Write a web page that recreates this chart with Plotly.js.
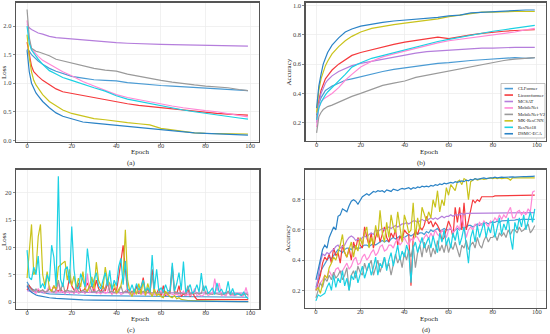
<!DOCTYPE html>
<html>
<head>
<meta charset="utf-8">
<script src="https://cdn.plot.ly/plotly-3.0.1.min.js"></script>
<style>html,body{margin:0;padding:0;background:#fff;}#chart{width:550px;height:334px;}</style>
</head>
<body>
<div id="chart"></div>
<script>
// ---------- Data ----------
const modelNames = ["CLFormer", "Liconvformer", "MCSAT", "MobileNet", "MobileNet-V2", "MK-ResCNN", "ResNet18", "DSMC-ECA"];
const modelColors = ["#4a9bd4", "#f5393c", "#b57edc", "#ff88d6", "#9a9a9a", "#c9c31c", "#1bd1e3", "#2b83c6"];

const epochs = Array.from({length: 100}, (_, i) => i);
const sparseEpochs = [0,1,2,3,4,5,7,10,13,16,20,25,30,35,40,45,50,55,60,65,70,75,80,85,90,95,99];

// (a) training loss (smooth), at sparseEpochs
const lossA_CLFormer     = [1.6,1.56,1.5,1.46,1.42,1.39,1.33,1.26,1.21,1.17,1.12,1.09,1.06,1.05,1.04,1.01,0.99,0.98,0.96,0.95,0.94,0.92,0.91,0.9,0.89,0.88,0.87];
const lossA_Liconvformer = [1.72,1.5,1.3,1.2,1.15,1.12,1.05,0.98,0.9,0.85,0.82,0.78,0.75,0.71,0.67,0.64,0.61,0.59,0.57,0.54,0.52,0.5,0.48,0.47,0.46,0.45,0.44];
const lossA_MCSAT        = [2.03,1.97,1.94,1.92,1.9,1.88,1.86,1.82,1.8,1.79,1.77,1.75,1.74,1.72,1.71,1.70,1.69,1.685,1.68,1.675,1.67,1.665,1.66,1.66,1.655,1.65,1.65];
const lossA_MobileNet    = [2.1,1.75,1.6,1.55,1.5,1.47,1.4,1.33,1.26,1.2,1.13,1.03,0.95,0.88,0.8,0.75,0.71,0.67,0.63,0.6,0.57,0.54,0.52,0.5,0.47,0.44,0.41];
const lossA_MobileNetV2  = [2.29,1.8,1.61,1.58,1.56,1.55,1.52,1.48,1.42,1.39,1.36,1.30,1.26,1.23,1.21,1.16,1.12,1.08,1.05,1.02,0.99,0.97,0.95,0.94,0.92,0.89,0.87];
const lossA_MKResCNN     = [1.85,1.45,1.2,1.05,0.97,0.92,0.8,0.68,0.6,0.53,0.47,0.42,0.38,0.36,0.33,0.31,0.29,0.27,0.21,0.18,0.15,0.13,0.12,0.12,0.11,0.11,0.11];
const lossA_ResNet18     = [2.0,1.7,1.58,1.52,1.47,1.42,1.33,1.22,1.16,1.1,1.05,0.98,0.92,0.86,0.78,0.72,0.68,0.64,0.6,0.56,0.53,0.5,0.47,0.45,0.42,0.39,0.37];
const lossA_DSMCECA      = [1.58,1.2,1.0,0.9,0.83,0.78,0.68,0.57,0.48,0.42,0.37,0.32,0.3,0.28,0.26,0.245,0.23,0.21,0.19,0.17,0.14,0.13,0.12,0.11,0.11,0.1,0.09];

// (b) training accuracy (smooth), at sparseEpochs
const accB_CLFormer     = [0.25,0.33,0.37,0.4,0.42,0.43,0.45,0.47,0.49,0.5,0.515,0.535,0.55,0.565,0.575,0.585,0.595,0.605,0.61,0.62,0.625,0.63,0.635,0.64,0.645,0.64,0.645];
const accB_Liconvformer = [0.22,0.35,0.42,0.46,0.5,0.52,0.56,0.6,0.63,0.66,0.68,0.7,0.72,0.735,0.75,0.76,0.775,0.785,0.775,0.79,0.8,0.81,0.82,0.825,0.83,0.835,0.835];
const accB_MCSAT        = [0.2,0.33,0.4,0.44,0.47,0.49,0.52,0.55,0.57,0.59,0.605,0.62,0.635,0.65,0.66,0.675,0.685,0.69,0.7,0.705,0.705,0.71,0.71,0.715,0.715,0.715,0.715];
const accB_MobileNet    = [0.17,0.3,0.34,0.36,0.37,0.38,0.4,0.44,0.49,0.53,0.58,0.62,0.65,0.67,0.69,0.71,0.73,0.745,0.76,0.77,0.785,0.79,0.8,0.81,0.82,0.835,0.845];
const accB_MobileNetV2  = [0.13,0.24,0.27,0.29,0.3,0.31,0.32,0.34,0.36,0.38,0.4,0.43,0.455,0.47,0.485,0.51,0.525,0.54,0.555,0.57,0.585,0.6,0.615,0.625,0.635,0.64,0.645];
const accB_MKResCNN     = [0.27,0.42,0.5,0.55,0.59,0.62,0.67,0.72,0.76,0.79,0.82,0.845,0.86,0.87,0.88,0.89,0.895,0.91,0.925,0.935,0.945,0.955,0.955,0.96,0.96,0.96,0.96];
const accB_ResNet18     = [0.22,0.3,0.34,0.37,0.39,0.41,0.44,0.48,0.53,0.58,0.61,0.64,0.66,0.68,0.7,0.72,0.74,0.755,0.77,0.785,0.8,0.81,0.825,0.835,0.845,0.86,0.865];
const accB_DSMCECA      = [0.3,0.45,0.53,0.6,0.64,0.68,0.73,0.78,0.82,0.84,0.86,0.875,0.885,0.895,0.9,0.91,0.915,0.92,0.93,0.935,0.95,0.955,0.96,0.96,0.965,0.97,0.97];

// (c) validation loss (noisy)
const lossC_CLFormer     = [3.7,2.9,2.5,2.2,2.0,1.85,1.7,1.5,1.45,1.38,1.32,1.26,1.2,1.17,1.13,1.1,1.07,1.05,1.02,1.0,0.98,0.96,0.95,0.93,0.92,0.9,0.89]; // sparse
const lossC_Liconvformer = [2.2,3.0,2.4,2.0,1.8,2.2,2.0,2.2,1.8,2.0, 2.5,2.0,3.0,2.2,2.0,2.5,1.8,2.0,2.2,4.5, 3.0,2.2,2.0,3.5,2.0,2.0,2.5,3.5,2.5,3.0, 2.0,4.0,2.5,1.8,3.0,2.0,3.5,2.0,1.5,2.5, 2.0,4.5,8.0,10.4,6.0,2.0,1.5,2.0,1.5,3.0, 1.5,2.5,4.5,1.5,2.5,1.5,6.0,2.0,1.5,2.5, 1.2,3.0,1.2,1.5,2.0,6.5,2.0,1.5,3.0,1.0, 1.5,1.2,2.5,1.0,1.8,1.0,0.5,0.5,0.5,0.5, 0.5,0.5,0.5,0.5,0.5,0.5,0.5,0.5,0.5,0.5, 0.5,0.48,0.48,0.48,0.47,0.47,0.46,0.46,0.45,0.45];
const lossC_MCSAT        = [2.1,2.0,1.95,1.95,1.9,1.9,1.88,1.85,1.82,1.8,1.78,1.76,1.75,1.73,1.72,1.71,1.7,1.69,1.69,1.68,1.68,1.67,1.67,1.66,1.66,1.65,1.65]; // sparse
const lossC_MobileNet    = [2.8,2.2,1.8,2.0,1.6,2.5,1.8,2.0,1.6,2.2, 3.0,1.8,2.0,1.6,3.5,1.8,2.0,1.5,2.2,1.6, 2.0,1.5,2.4,1.6,1.8,2.0,1.5,5.2,1.8,2.0, 3.0,1.6,1.8,1.5,2.2,1.6,1.8,3.5,1.5,1.8, 1.5,2.0,1.4,1.6,2.0,2.5,1.4,1.6,1.4,1.8, 2.5,1.4,1.6,1.3,1.8,1.4,1.6,1.3,1.5,1.4, 2.0,1.3,1.5,1.2,1.6,1.4,1.3,1.5,1.2,1.4, 2.0,1.2,1.4,1.2,1.5,2.5,1.2,1.4,1.1,1.3, 2.0,1.2,1.4,1.6,4.3,2.0,3.5,1.2,1.4,1.1, 2.0,1.2,1.3,1.1,1.4,1.5,1.0,1.2,2.7,1.0];
const lossC_MobileNetV2  = [3.2,2.6,2.2,2.0,2.4,1.8,2.0,2.2,1.8,2.0, 2.4,2.0,1.8,2.2,4.0,2.0,3.5,1.8,2.2,2.0, 2.0,1.8,3.0,2.0,1.8,2.2,1.8,2.0,3.0,1.8, 2.0,1.8,2.2,1.8,2.0,2.5,4.0,1.8,2.0,1.7, 2.0,1.8,3.0,1.7,2.0,1.8,1.7,1.9,2.0,1.7, 1.8,1.7,2.0,1.6,1.8,1.7,5.0,1.7,1.6,1.8, 1.6,1.8,1.6,1.7,1.6,6.0,1.6,1.8,1.5,1.7, 1.5,1.6,3.0,1.5,1.6,1.5,1.7,1.5,1.6,3.0, 1.5,1.6,1.5,1.4,1.6,1.5,1.4,1.5,1.4,1.5, 2.0,1.4,1.5,1.4,1.4,1.5,1.3,1.4,1.5,1.3];
const lossC_MKResCNN     = [4.4,9.0,14.2,5.0,6.0,12.0,14.2,5.0,3.0,5.6, 2.4,2.0,3.0,2.4,6.4,6.8,7.2,7.5,4.0,6.0, 3.0,4.8,2.6,4.4,2.8,5.6,2.4,2.0,3.0,4.6, 2.4,7.3,4.0,3.0,2.4,6.4,4.0,3.4,2.4,3.4, 1.6,2.2,3.0,5.0,13.2,4.0,2.0,1.0,2.4,1.4, 3.4,1.4,4.0,1.2,3.4,2.0,1.0,2.4,1.2,1.5, 1.0,0.8,2.0,1.4,1.0,0.8,1.2,0.6,0.8,0.5, 0.4,0.35,0.3,0.3,0.28,0.25,0.25,0.22,0.2,0.2, 0.18,0.18,0.17,0.16,0.15,0.15,0.15,0.14,0.14,0.13, 0.13,0.13,0.12,0.12,0.12,0.12,0.11,0.11,0.11,0.11];
const lossC_ResNet18     = [9.5,4.5,4.1,6.4,5.0,8.4,2.6,3.4,2.4,5.0, 3.8,10.4,8.2,2.8,23.0,4.2,2.8,6.0,6.5,3.4, 13.8,6.0,2.8,2.4,5.2,4.0,2.8,9.8,6.2,2.8, 4.2,5.4,3.0,2.4,4.0,5.4,3.0,5.8,2.2,4.0, 3.0,6.5,8.0,3.2,7.5,2.4,2.0,3.2,1.8,3.4, 2.2,2.8,4.0,2.0,2.6,1.8,8.6,2.4,6.0,2.0, 2.6,1.8,3.2,2.0,2.2,7.2,2.0,3.4,5.4,2.2, 7.4,1.8,2.4,3.2,1.6,2.0,3.2,1.8,5.3,2.0, 3.0,1.6,2.0,2.6,1.4,3.5,1.8,2.4,1.5,1.8, 3.8,1.4,2.5,1.3,1.6,1.4,1.2,1.8,1.0,0.6];
const lossC_DSMCECA      = [3.0,2.2,1.8,1.5,1.3,1.2,1.0,0.8,0.7,0.6,0.5,0.42,0.38,0.35,0.32,0.3,0.28,0.25,0.22,0.2,0.18,0.15,0.13,0.12,0.11,0.1,0.1]; // sparse

// (d) validation accuracy (noisy)
const accD_CLFormer     = [0.22,0.28,0.32,0.35,0.38,0.4,0.42,0.41,0.43,0.45, 0.47,0.46,0.45,0.47,0.48,0.48,0.47,0.49,0.48,0.48, 0.48,0.49,0.5,0.5,0.49,0.5,0.51,0.5,0.51,0.52, 0.53,0.52,0.53,0.52,0.54,0.55,0.54,0.55,0.56,0.55, 0.55,0.56,0.57,0.56,0.57,0.58,0.57,0.58,0.58,0.57, 0.59,0.58,0.6,0.59,0.6,0.61,0.59,0.6,0.61,0.6, 0.6,0.61,0.58,0.6,0.61,0.6,0.62,0.61,0.62,0.63, 0.63,0.62,0.63,0.64,0.63,0.64,0.64,0.65,0.64,0.65, 0.65,0.65,0.66,0.65,0.66,0.66,0.66,0.665,0.66,0.665, 0.665,0.67,0.665,0.67,0.67,0.67,0.668,0.67,0.67,0.67];
const accD_Liconvformer = [0.2,0.25,0.3,0.38,0.42,0.4,0.44,0.38,0.48,0.43, 0.45,0.38,0.5,0.45,0.42,0.48,0.4,0.52,0.47,0.55, 0.5,0.48,0.62,0.55,0.5,0.58,0.48,0.55,0.6,0.52, 0.57,0.62,0.55,0.52,0.58,0.55,0.6,0.5,0.56,0.53, 0.6,0.58,0.57,0.23,0.55,0.6,0.57,0.62,0.6,0.63, 0.69,0.64,0.66,0.62,0.65,0.63,0.6,0.53,0.55,0.6, 0.66,0.62,0.55,0.75,0.65,0.75,0.6,0.78,0.6,0.66, 0.72,0.8,0.78,0.8,0.79,0.82,0.82,0.82,0.82,0.82, 0.82,0.825,0.825,0.825,0.83,0.83,0.83,0.83,0.83,0.83, 0.83,0.83,0.83,0.83,0.83,0.83,0.83,0.83,0.83,0.83];
const accD_MCSAT        = [0.2,0.3,0.38,0.44,0.43,0.45,0.44,0.46,0.47,0.49, 0.5,0.48,0.49,0.5,0.53,0.55,0.56,0.55,0.53,0.54, 0.53,0.55,0.56,0.55,0.57,0.58,0.57,0.6,0.59,0.6, 0.61,0.6,0.61,0.62,0.61,0.62,0.63,0.62,0.63,0.64, 0.64,0.65,0.64,0.65,0.66,0.66,0.65,0.66,0.67,0.66, 0.67,0.67,0.68,0.67,0.68,0.67,0.68,0.69,0.68,0.69, 0.69,0.7,0.69,0.7,0.7,0.7,0.71,0.7,0.71,0.71, 0.71,0.71,0.715,0.71,0.715,0.715,0.71,0.715,0.715,0.715, 0.715,0.715,0.715,0.715,0.715,0.715,0.715,0.715,0.715,0.715, 0.715,0.715,0.715,0.715,0.715,0.715,0.715,0.715,0.715,0.715];
const accD_MobileNet    = [0.2,0.22,0.25,0.27,0.3,0.28,0.33,0.3,0.3,0.34, 0.35,0.32,0.33,0.36,0.38,0.34,0.36,0.4,0.42,0.37, 0.38,0.42,0.44,0.4,0.42,0.45,0.47,0.43,0.45,0.49, 0.5,0.46,0.47,0.5,0.5,0.48,0.52,0.54,0.5,0.52, 0.55,0.52,0.5,0.54,0.53,0.56,0.55,0.52,0.52,0.55, 0.57,0.54,0.58,0.55,0.6,0.57,0.56,0.6,0.58,0.55, 0.6,0.62,0.58,0.6,0.63,0.6,0.7,0.62,0.55,0.6, 0.62,0.6,0.64,0.62,0.65,0.63,0.66,0.64,0.62,0.66, 0.65,0.68,0.66,0.7,0.67,0.7,0.68,0.72,0.75,0.68, 0.68,0.72,0.73,0.7,0.72,0.7,0.74,0.72,0.85,0.86];
const accD_MobileNetV2  = [0.15,0.2,0.25,0.22,0.28,0.26,0.3,0.27,0.32,0.28, 0.3,0.33,0.27,0.3,0.35,0.2,0.3,0.33,0.28,0.36, 0.32,0.3,0.38,0.33,0.36,0.4,0.3,0.35,0.4,0.32, 0.37,0.42,0.35,0.38,0.3,0.36,0.44,0.38,0.42,0.35, 0.45,0.4,0.47,0.42,0.5,0.35,0.45,0.5,0.42,0.52, 0.45,0.5,0.42,0.48,0.44,0.53,0.46,0.5,0.45,0.52, 0.45,0.5,0.47,0.52,0.46,0.42,0.5,0.48,0.53,0.47, 0.5,0.52,0.48,0.55,0.5,0.48,0.53,0.56,0.52,0.55, 0.55,0.57,0.53,0.58,0.56,0.58,0.55,0.6,0.57,0.6, 0.6,0.58,0.62,0.59,0.6,0.62,0.64,0.58,0.6,0.63];
const accD_MKResCNN     = [0.2,0.22,0.18,0.25,0.3,0.28,0.35,0.38,0.42,0.4, 0.45,0.5,0.57,0.45,0.42,0.48,0.52,0.42,0.5,0.46, 0.55,0.5,0.58,0.62,0.48,0.55,0.5,0.63,0.55,0.73, 0.58,0.52,0.65,0.55,0.7,0.62,0.58,0.72,0.6,0.52, 0.7,0.65,0.58,0.6,0.78,0.55,0.68,0.6,0.75,0.7, 0.66,0.72,0.68,0.8,0.75,0.86,0.72,0.8,0.76,0.88, 0.83,0.9,0.88,0.86,0.92,0.93,0.9,0.94,0.93,0.8, 0.92,0.93,0.94,0.93,0.935,0.94,0.935,0.94,0.94,0.945, 0.94,0.945,0.94,0.945,0.94,0.945,0.945,0.94,0.93,0.945, 0.945,0.945,0.95,0.945,0.945,0.95,0.945,0.945,0.945,0.945];
const accD_ResNet18     = [0.13,0.17,0.16,0.17,0.18,0.22,0.25,0.2,0.3,0.22, 0.28,0.25,0.33,0.23,0.28,0.2,0.3,0.27,0.33,0.25, 0.3,0.36,0.28,0.33,0.38,0.3,0.35,0.42,0.3,0.38, 0.35,0.42,0.33,0.4,0.45,0.36,0.44,0.5,0.4,0.46, 0.42,0.5,0.45,0.25,0.48,0.52,0.45,0.5,0.55,0.48, 0.52,0.55,0.48,0.56,0.5,0.45,0.58,0.52,0.6,0.5, 0.55,0.48,0.58,0.53,0.6,0.5,0.55,0.62,0.5,0.38, 0.55,0.6,0.52,0.63,0.55,0.6,0.65,0.55,0.62,0.58, 0.66,0.55,0.62,0.68,0.57,0.64,0.6,0.68,0.55,0.47, 0.65,0.6,0.68,0.62,0.7,0.6,0.66,0.72,0.65,0.74];
const accD_DSMCECA      = [0.27,0.33,0.41,0.47,0.5,0.48,0.55,0.58,0.62,0.6, 0.69,0.7,0.74,0.73,0.72,0.76,0.79,0.8,0.79,0.77, 0.8,0.82,0.83,0.84,0.83,0.845,0.855,0.85,0.86,0.855, 0.86,0.85,0.865,0.86,0.855,0.87,0.865,0.86,0.87,0.875, 0.87,0.875,0.88,0.87,0.88,0.875,0.885,0.88,0.89,0.885, 0.89,0.885,0.895,0.89,0.9,0.895,0.905,0.9,0.91,0.905, 0.91,0.915,0.91,0.92,0.915,0.92,0.925,0.92,0.93,0.925, 0.935,0.93,0.94,0.935,0.94,0.94,0.945,0.94,0.945,0.945, 0.945,0.95,0.945,0.95,0.95,0.948,0.95,0.952,0.95,0.952, 0.95,0.952,0.953,0.952,0.954,0.953,0.955,0.955,0.955,0.956];

// tick labels
const xTicks = [0, 20, 40, 60, 80, 100];
const yTicksA = [0, 0.5, 1.0, 1.5, 2.0];
const yTicksB = [0.2, 0.4, 0.6, 0.8, 1.0];
const yTicksC = [0, 5, 10, 15, 20];
const yTicksD = [0.2, 0.4, 0.6, 0.8];
const panelLabels = ["(a)", "(b)", "(c)", "(d)"];

// ---------- Build ----------
const panels = [
  {xa: "x",  ya: "y",  series: [
    [sparseEpochs, lossA_CLFormer],[sparseEpochs, lossA_Liconvformer],[sparseEpochs, lossA_MCSAT],[sparseEpochs, lossA_MobileNet],
    [sparseEpochs, lossA_MobileNetV2],[sparseEpochs, lossA_MKResCNN],[sparseEpochs, lossA_ResNet18],[sparseEpochs, lossA_DSMCECA]]},
  {xa: "x2", ya: "y2", series: [
    [sparseEpochs, accB_CLFormer],[sparseEpochs, accB_Liconvformer],[sparseEpochs, accB_MCSAT],[sparseEpochs, accB_MobileNet],
    [sparseEpochs, accB_MobileNetV2],[sparseEpochs, accB_MKResCNN],[sparseEpochs, accB_ResNet18],[sparseEpochs, accB_DSMCECA]]},
  {xa: "x3", ya: "y3", series: [
    [sparseEpochs, lossC_CLFormer],[epochs, lossC_Liconvformer],[sparseEpochs, lossC_MCSAT],[epochs, lossC_MobileNet],
    [epochs, lossC_MobileNetV2],[epochs, lossC_MKResCNN],[epochs, lossC_ResNet18],[sparseEpochs, lossC_DSMCECA]]},
  {xa: "x4", ya: "y4", series: [
    [epochs, accD_CLFormer],[epochs, accD_Liconvformer],[epochs, accD_MCSAT],[epochs, accD_MobileNet],
    [epochs, accD_MobileNetV2],[epochs, accD_MKResCNN],[epochs, accD_ResNet18],[epochs, accD_DSMCECA]]}
];

const traces = [];
panels.forEach(p => {
  p.series.forEach((s, i) => {
    traces.push({
      x: s[0], y: s[1], type: "scatter", mode: "lines",
      name: modelNames[i], showlegend: false,
      xaxis: p.xa, yaxis: p.ya,
      line: {color: modelColors[i], width: 1.2},
      hoverinfo: "skip"
    });
  });
});

const W = 550, H = 334;
const px = v => v / W;
const py = v => 1 - v / H;
const font = "Liberation Serif, Times New Roman, serif";
const tickFont = {family: font, size: 6.5, color: "#444"};

function axisBase(extra) {
  return Object.assign({
    showline: true, mirror: true, linecolor: "#555", linewidth: 1.3,
    ticks: "outside", ticklen: 2, tickwidth: 0.7, tickcolor: "#555",
    showgrid: true, gridcolor: "#ebebeb", gridwidth: 0.7,
    zeroline: false, tickfont: tickFont, fixedrange: true
  }, extra);
}
const xExtra = {range: [-4.95, 103.95], tickvals: xTicks, ticklabelstandoff: -5};

const layout = {
  width: W, height: H,
  margin: {l: 0, r: 0, t: 0, b: 0},
  paper_bgcolor: "#fff", plot_bgcolor: "#fff",
  showlegend: false,
  xaxis:  axisBase(Object.assign({domain: [px(16), px(259)], anchor: "y"}, xExtra)),
  yaxis:  axisBase({domain: [py(142), py(2.7)],   range: [-0.03, 2.41], tickvals: yTicksA, tickformat: ".1f", anchor: "x"}),
  xaxis2: axisBase(Object.assign({domain: [px(305.7), px(545.7)], anchor: "y2"}, xExtra)),
  yaxis2: axisBase({domain: [py(140.7), py(2.7)], range: [0.077, 1.02], tickvals: yTicksB, tickformat: ".1f", anchor: "x2"}),
  xaxis3: axisBase(Object.assign({domain: [px(16), px(259.3)], anchor: "y3"}, xExtra)),
  yaxis3: axisBase({domain: [py(308.7), py(169.7)], range: [-1.2, 24.2], tickvals: yTicksC, anchor: "x3"}),
  xaxis4: axisBase(Object.assign({domain: [px(305), px(545.7)], anchor: "y4"}, xExtra)),
  yaxis4: axisBase({domain: [py(307.7), py(169.7)], range: [0.085, 0.999], tickvals: yTicksD, tickformat: ".1f", anchor: "x4"}),
  annotations: [],
  shapes: []
};

const titleFont = {family: font, size: 7, color: "#222"};
const ann = (x, y, text, opts) => Object.assign({
  xref: "paper", yref: "paper", x: px(x), y: py(y), text: text, showarrow: false,
  font: titleFont, xanchor: "center", yanchor: "middle"
}, opts || {});

// axis titles
layout.annotations.push(ann(4, 72, "Loss", {textangle: -90}));
layout.annotations.push(ann(288.5, 72, "Accuracy", {textangle: -90}));
layout.annotations.push(ann(4, 239, "Loss", {textangle: -90}));
layout.annotations.push(ann(288, 239, "Accuracy", {textangle: -90}));
layout.annotations.push(ann(140, 152, "Epoch"));
layout.annotations.push(ann(429, 152, "Epoch"));
layout.annotations.push(ann(140, 319, "Epoch"));
layout.annotations.push(ann(429, 319, "Epoch"));
// panel captions
layout.annotations.push(ann(131, 163, panelLabels[0]));
layout.annotations.push(ann(422, 163, panelLabels[1]));
layout.annotations.push(ann(131, 330, panelLabels[2]));
layout.annotations.push(ann(426, 330, panelLabels[3]));

// legend (panel b)
const lg = {x0: 501, x1: 545, y0: 83.5, y1: 138, first: 88.6, step: 6.45, keyX0: 504.5, keyX1: 513, textX: 515.5};
layout.shapes.push({type: "rect", xref: "paper", yref: "paper",
  x0: px(lg.x0), x1: px(lg.x1), y0: py(lg.y1), y1: py(lg.y0),
  fillcolor: "#fff", line: {color: "#999", width: 0.6}, layer: "above"});
modelNames.forEach((n, i) => {
  const yy = lg.first + i * lg.step;
  layout.shapes.push({type: "line", xref: "paper", yref: "paper",
    x0: px(lg.keyX0), x1: px(lg.keyX1), y0: py(yy), y1: py(yy),
    line: {color: modelColors[i], width: 1.6}, layer: "above"});
  layout.annotations.push(ann(lg.textX, yy, n, {xanchor: "left", font: {family: font, size: 4.6, color: "#222"}}));
});

Plotly.newPlot("chart", traces, layout, {staticPlot: true, displayModeBar: false});
</script>
</body>
</html>
